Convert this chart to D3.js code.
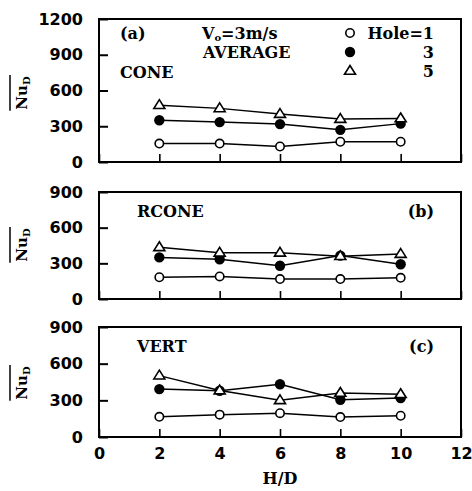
<!DOCTYPE html>
<html><head><meta charset="utf-8">
<script src="https://cdn.jsdelivr.net/npm/d3@7"></script>
<style>
body{margin:0;background:#fff;}
svg{display:block;}
</style></head>
<body>
<svg id="c" width="472" height="491"></svg>
<script>
// ---- data ----
const hd = [2, 4, 6, 8, 10];
const xTicks = [0, 2, 4, 6, 8, 10, 12];
const yTicksA = [0, 300, 600, 900, 1200];
const yTicksBC = [0, 300, 600, 900];
const holeLabels = ["Hole=1", "3", "5"];

const coneHole1 = [155, 155, 130, 170, 170];
const coneHole3 = [350, 335, 318, 270, 322];
const coneHole5 = [477, 450, 402, 360, 365];

const rconeHole1 = [183, 190, 168, 168, 178];
const rconeHole3 = [350, 334, 280, 365, 292];
const rconeHole5 = [435, 388, 388, 360, 378];

const vertHole1 = [165, 183, 195, 163, 174];
const vertHole3 = [392, 378, 432, 305, 319];
const vertHole5 = [502, 380, 300, 360, 350];

const panels = [
  {name: "CONE", tag: "(a)", top: 19, bottom: 162, ymax: 1200, yt: yTicksA,
   series: [coneHole1, coneHole3, coneHole5], labelY: 93},
  {name: "RCONE", tag: "(b)", top: 192, bottom: 299, ymax: 900, yt: yTicksBC,
   series: [rconeHole1, rconeHole3, rconeHole5], labelY: 245},
  {name: "VERT", tag: "(c)", top: 327, bottom: 437, ymax: 900, yt: yTicksBC,
   series: [vertHole1, vertHole3, vertHole5], labelY: 383}
];

const svg = d3.select("#c");
const left = 99, right = 461;
const x = d3.scaleLinear().domain([0, 12]).range([left, right]);
const serif = "'DejaVu Serif', 'Liberation Serif', serif";
const sans = "'DejaVu Sans', 'Liberation Sans', sans-serif";

function marker(g, type, cx, cy) {
  if (type === 0) {
    g.append("circle").attr("cx", cx).attr("cy", cy).attr("r", 4.2)
      .attr("fill", "#fff").attr("stroke", "#000").attr("stroke-width", 1.6);
  } else if (type === 1) {
    g.append("circle").attr("cx", cx).attr("cy", cy).attr("r", 5.2)
      .attr("fill", "#000");
  } else {
    const s = 5.5;
    g.append("path")
      .attr("d", `M${cx},${cy - s}L${cx + s},${cy + s * 0.6}L${cx - s},${cy + s * 0.6}Z`)
      .attr("fill", "#fff").attr("stroke", "#000").attr("stroke-width", 1.6);
  }
}

panels.forEach((p, i) => {
  const y = d3.scaleLinear().domain([0, p.ymax]).range([p.bottom, p.top]);
  const g = svg.append("g");

  // left axis
  const ya = g.append("g").attr("transform", `translate(${left},0)`)
    .call(d3.axisLeft(y).tickValues(p.yt).tickSizeInner(-9).tickSizeOuter(0)
      .tickPadding(16).tickFormat(d3.format("d")));
  ya.select(".domain").remove();
  ya.selectAll("line").attr("stroke-width", 2);
  ya.selectAll("text").attr("font-family", sans).attr("font-weight", "bold")
    .attr("font-size", 16).attr("fill", "#000");

  // bottom axis
  const xa = g.append("g").attr("transform", `translate(0,${p.bottom})`)
    .call(d3.axisBottom(x).tickValues(xTicks).tickSizeInner(-8).tickSizeOuter(0)
      .tickPadding(11).tickFormat(i === 2 ? d3.format("d") : () => ""));
  xa.select(".domain").remove();
  xa.selectAll("line").attr("stroke-width", 1.6);
  xa.selectAll("text").attr("font-family", sans).attr("font-weight", "bold")
    .attr("font-size", 16).attr("fill", "#000");

  // frame
  g.append("rect").attr("x", left).attr("y", p.top)
    .attr("width", right - left).attr("height", p.bottom - p.top)
    .attr("fill", "none").attr("stroke", "#000").attr("stroke-width", 2);

  // lines and markers
  const line = d3.line().x((d, j) => x(hd[j])).y(d => y(d));
  p.series.forEach((s, k) => {
    g.append("path").attr("d", line(s)).attr("fill", "none")
      .attr("stroke", "#000").attr("stroke-width", 1.5);
  });
  p.series.forEach((s, k) => {
    s.forEach((v, j) => marker(g, k, x(hd[j]), y(v)));
  });

  // y label Nu_D with overline
  const lg = g.append("g").attr("transform", `translate(27,${p.labelY}) rotate(-90)`);
  const t = lg.append("text").attr("text-anchor", "middle")
    .attr("font-family", serif).attr("font-weight", "bold").attr("font-size", 15);
  t.append("tspan").text("Nu");
  t.append("tspan").attr("font-size", 10).attr("dy", 3).text("D");
  const bb = t.node().getBBox();
  lg.append("line").attr("x1", bb.x - 1).attr("x2", bb.x + bb.width + 1)
    .attr("y1", -17).attr("y2", -17).attr("stroke", "#000").attr("stroke-width", 1.5);

  // panel texts
  const txt = (tx, ty, s, anchor) => g.append("text").attr("x", tx).attr("y", ty)
    .attr("font-family", serif).attr("font-weight", "bold").attr("font-size", 16)
    .attr("text-anchor", anchor || "start").attr("dominant-baseline", "central").text(s);

  if (i === 0) {
    txt(120, 33, p.tag);
    txt(120, 72, p.name);
    const v = g.append("text").attr("x", 202).attr("y", 33)
      .attr("font-family", serif).attr("font-weight", "bold").attr("font-size", 16)
      .attr("dominant-baseline", "central");
    v.append("tspan").text("V");
    v.append("tspan").attr("font-size", 10).attr("dy", 4).text("o");
    v.append("tspan").attr("dy", -4).text("=3m/s");
    txt(203, 52, "AVERAGE");
    // legend
    const ly = [33, 52, 71];
    ly.forEach((yy, k) => {
      marker(g, k, 350, yy);
      txt(434, yy, holeLabels[k], "end");
    });
  } else {
    txt(137, p.top + 19, p.name);
    txt(434, p.top + 19, p.tag, "end");
  }
});

// x axis title
svg.append("text").attr("x", x(6)).attr("y", 478).attr("text-anchor", "middle")
  .attr("font-family", serif).attr("font-weight", "bold").attr("font-size", 16)
  .attr("dominant-baseline", "central").text("H/D");
</script>
</body></html>
